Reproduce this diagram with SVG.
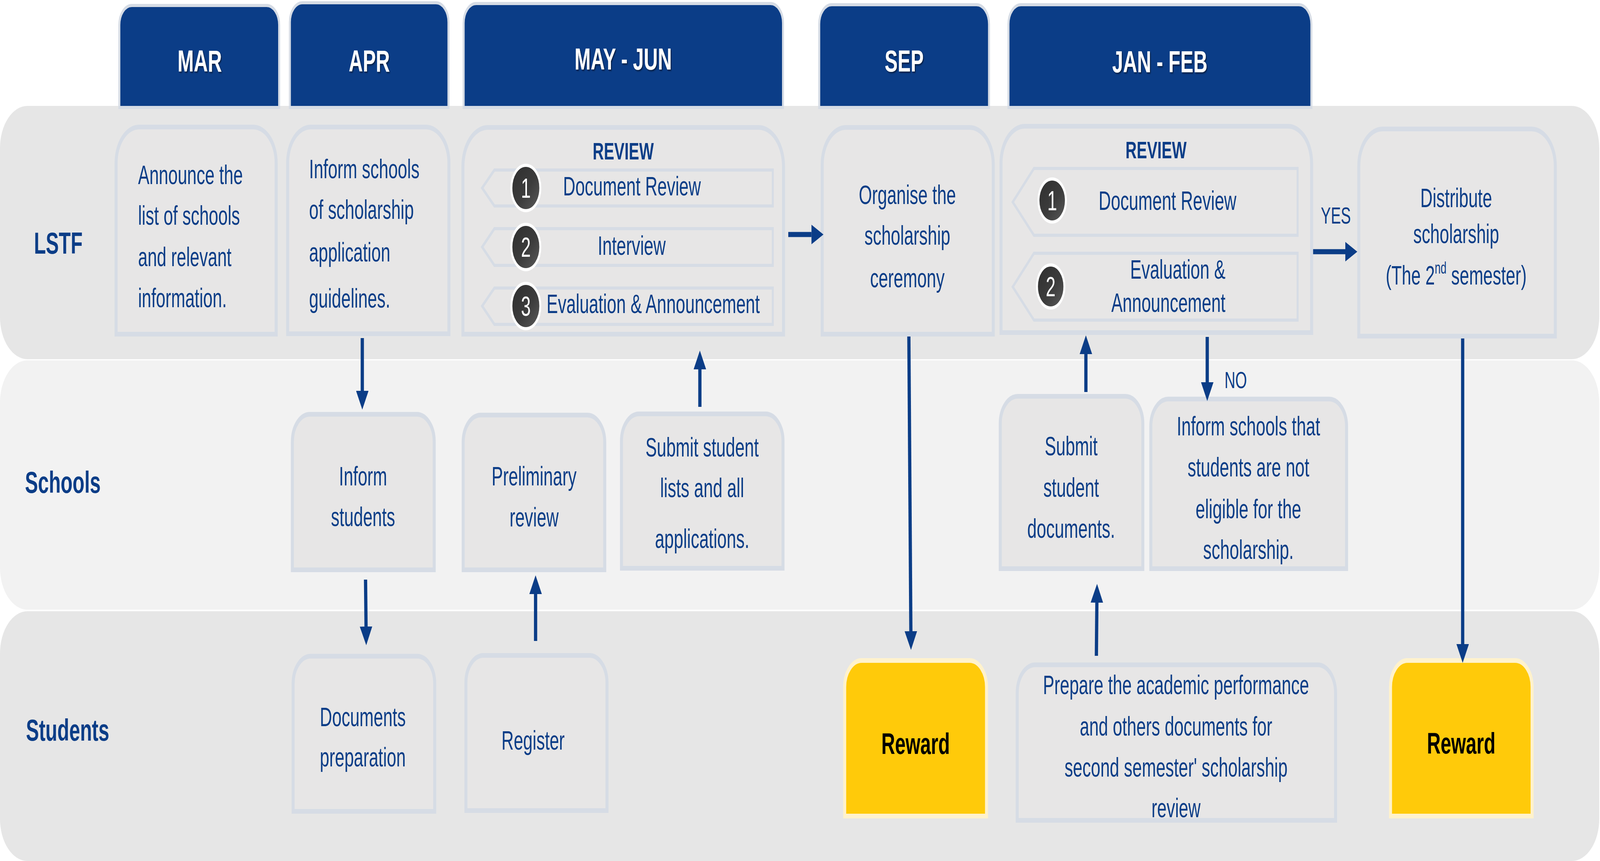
<svg xmlns="http://www.w3.org/2000/svg" width="6408" height="2203" viewBox="0 0 6408 2203" preserveAspectRatio="none" style="width:100vw;height:100vh;display:block">
<defs>
<style>
.lane-a{fill:#e6e6e6}
.lane-b{fill:#f2f2f2}
.hdr{fill:#0b3d87;stroke:#d6dce5;stroke-width:8}
.node{fill:#e7e6e6;stroke:#d6dce5;stroke-width:12}
.reward{fill:#ffca0a;stroke:#fff2cc;stroke-width:12}
.item{fill:none;stroke:#d6dce5;stroke-width:8}
.badge{fill:url(#bg);stroke:#ffffff;stroke-width:8}
text{font-family:"Liberation Sans",Arial,sans-serif;font-size:68px;fill:#0b3d87}
.c{text-anchor:middle}
.e{text-anchor:end}
.h{font-weight:bold;font-size:78px;fill:#ffffff;filter:url(#sh)}
.lab{font-weight:bold;font-size:78px}
.rv{font-weight:bold;font-size:62px}
.num{font-size:70px;fill:#ffffff}
.rw{font-weight:bold;font-size:76px;fill:#000000}
.yn{font-size:60px}
.conn line{stroke:#0b3d87;stroke-width:13;marker-end:url(#ah)}
</style>
<linearGradient id="bg" x1="0" y1="0" x2="1" y2="1">
<stop offset="0" stop-color="#2e2e2e"/>
<stop offset="0.55" stop-color="#3c3c3c"/>
<stop offset="1" stop-color="#5c5c5c"/>
</linearGradient>
<filter id="sh" x="-10%" y="-20%" width="130%" height="150%">
<feDropShadow dx="3" dy="3" stdDeviation="2" flood-color="#000000" flood-opacity="0.55"/>
</filter>
<marker id="ah" viewBox="0 0 48 50" refX="0" refY="25" markerWidth="48" markerHeight="50" markerUnits="userSpaceOnUse" orient="auto">
<path d="M0,0 L48,25 L0,50 z" fill="#0b3d87"/>
</marker>
</defs>
<rect width="6408" height="2203" fill="#ffffff"/>

<g id="lanes">
<rect class="lane-a" x="0" y="271" width="6405" height="648" rx="110" ry="108"/>
<rect class="lane-b" x="0" y="922" width="6405" height="638" rx="110" ry="108"/>
<rect class="lane-a" x="0" y="1564" width="6405" height="639" rx="110" ry="108"/>
<text class="lab" x="136" y="649">LSTF</text>
<text class="lab" x="100" y="1261">Schools</text>
<text class="lab" x="104" y="1895">Students</text>
</g>

<g id="header-mar">
<path class="hdr" d="M478,275 V64 A50,50 0 0 1 528,14 H1068 A50,50 0 0 1 1118,64 V275 Z"/>
<text class="h c" x="800" y="183">MAR</text>
</g>
<g id="header-apr">
<path class="hdr" d="M1161,275 V57 A50,50 0 0 1 1211,7 H1746 A50,50 0 0 1 1796,57 V275 Z"/>
<text class="h c" x="1479" y="183">APR</text>
</g>
<g id="header-mayjun">
<path class="hdr" d="M1857,275 V59 A50,50 0 0 1 1907,9 H3086 A50,50 0 0 1 3136,59 V275 Z"/>
<text class="h c" x="2496" y="178">MAY - JUN</text>
</g>
<g id="header-sep">
<path class="hdr" d="M3281,275 V62 A50,50 0 0 1 3331,12 H3911 A50,50 0 0 1 3961,62 V275 Z"/>
<text class="h c" x="3621" y="183">SEP</text>
</g>
<g id="header-janfeb">
<path class="hdr" d="M4039,275 V62 A50,50 0 0 1 4089,12 H5202 A50,50 0 0 1 5252,62 V275 Z"/>
<text class="h c" x="4645" y="185">JAN - FEB</text>
</g>

<g id="node-announce">
<path class="node" d="M465,855 V417 A92,92 0 0 1 557,325 H1014 A92,92 0 0 1 1106,417 V855 Z"/>
<text x="553" y="471">Announce the</text>
<text x="553" y="575">list of schools</text>
<text x="553" y="681">and relevant</text>
<text x="553" y="786">information.</text>
</g>
<g id="node-inform-schools-guidelines">
<path class="node" d="M1152,854 V417 A92,92 0 0 1 1244,325 H1706 A92,92 0 0 1 1798,417 V854 Z"/>
<text x="1238" y="456">Inform schools</text>
<text x="1238" y="560">of scholarship</text>
<text x="1238" y="669">application</text>
<text x="1238" y="787">guidelines.</text>
</g>
<g id="node-review-1">
<path class="node" d="M1854,855 V426 A100,100 0 0 1 1954,326 H3038 A100,100 0 0 1 3138,426 V855 Z"/>
<text class="rv c" x="2496" y="408">REVIEW</text>
<polygon class="item" points="1931,481 1980,435 3095,435 3095,527 1980,527"/>
<polygon class="item" points="1931,632 1980,585 3095,585 3095,679 1980,679"/>
<polygon class="item" points="1931,783 1980,737 3095,737 3095,830 1980,830"/>
<circle class="badge" cx="2106" cy="481" r="58"/>
<circle class="badge" cx="2106" cy="632" r="58"/>
<circle class="badge" cx="2106" cy="783" r="58"/>
<text class="num c" x="2106" y="506">1</text>
<text class="num c" x="2106" y="657">2</text>
<text class="num c" x="2106" y="808">3</text>
<text class="c" x="2531" y="500">Document Review</text>
<text class="c" x="2530" y="652">Interview</text>
<text class="c" x="2616" y="801">Evaluation &amp; Announcement</text>
</g>
<g id="node-ceremony">
<path class="node" d="M3293,855 V421 A95,95 0 0 1 3388,326 H3883 A95,95 0 0 1 3978,421 V855 Z"/>
<text class="c" x="3634" y="522">Organise the</text>
<text class="c" x="3634" y="626">scholarship</text>
<text class="c" x="3634" y="735">ceremony</text>
</g>
<g id="node-review-2">
<path class="node" d="M4009,851 V418 A95,95 0 0 1 4104,323 H5158 A95,95 0 0 1 5253,418 V851 Z"/>
<text class="rv c" x="4630" y="405">REVIEW</text>
<polygon class="item" points="4056,517 4141,431 5197,431 5197,602 4141,602"/>
<polygon class="item" points="4056,734 4141,648 5197,648 5197,819 4141,819"/>
<circle class="badge" cx="4214" cy="513" r="55"/>
<circle class="badge" cx="4208" cy="733" r="55"/>
<text class="num c" x="4214" y="538">1</text>
<text class="num c" x="4208" y="758">2</text>
<text class="c" x="4676" y="537">Document Review</text>
<text class="e" x="4908" y="713">Evaluation &amp;</text>
<text class="e" x="4908" y="798">Announcement</text>
</g>
<g id="node-distribute">
<path class="node" d="M5442,860 V425 A95,95 0 0 1 5537,330 H6134 A95,95 0 0 1 6229,425 V860 Z"/>
<text class="c" x="5832" y="530">Distribute</text>
<text class="c" x="5832" y="622">scholarship</text>
<text class="c" x="5832" y="728">(The 2<tspan font-size="42" dy="-28">nd</tspan><tspan dy="28"> semester)</tspan></text>
</g>

<g id="node-inform-students">
<path class="node" d="M1171,1458 V1130 A70,70 0 0 1 1241,1060 H1669 A70,70 0 0 1 1739,1130 V1458 Z"/>
<text class="c" x="1454" y="1242">Inform</text>
<text class="c" x="1454" y="1346">students</text>
</g>
<g id="node-preliminary">
<path class="node" d="M1855,1458 V1132 A70,70 0 0 1 1925,1062 H2352 A70,70 0 0 1 2422,1132 V1458 Z"/>
<text class="c" x="2139" y="1242">Preliminary</text>
<text class="c" x="2139" y="1347">review</text>
</g>
<g id="node-submit-lists">
<path class="node" d="M2489,1454 V1129 A70,70 0 0 1 2559,1059 H3066 A70,70 0 0 1 3136,1129 V1454 Z"/>
<text class="c" x="2812" y="1168">Submit student</text>
<text class="c" x="2812" y="1272">lists and all</text>
<text class="c" x="2812" y="1402">applications.</text>
</g>
<g id="node-submit-docs">
<path class="node" d="M4006,1455 V1084 A70,70 0 0 1 4076,1014 H4507 A70,70 0 0 1 4577,1084 V1455 Z"/>
<text class="c" x="4290" y="1165">Submit</text>
<text class="c" x="4290" y="1271">student</text>
<text class="c" x="4290" y="1376">documents.</text>
</g>
<g id="node-not-eligible">
<path class="node" d="M4609,1455 V1091 A70,70 0 0 1 4679,1021 H5323 A70,70 0 0 1 5393,1091 V1455 Z"/>
<text class="c" x="5000" y="1114">Inform schools that</text>
<text class="c" x="5000" y="1219">students are not</text>
<text class="c" x="5000" y="1326">eligible for the</text>
<text class="c" x="5000" y="1430">scholarship.</text>
</g>

<g id="node-documents-prep">
<path class="node" d="M1174,2076 V1749 A70,70 0 0 1 1244,1679 H1671 A70,70 0 0 1 1741,1749 V2076 Z"/>
<text class="c" x="1453" y="1858">Documents</text>
<text class="c" x="1453" y="1961">preparation</text>
</g>
<g id="node-register">
<path class="node" d="M1866,2074 V1747 A70,70 0 0 1 1936,1677 H2361 A70,70 0 0 1 2431,1747 V2074 Z"/>
<text class="c" x="2135" y="1918">Register</text>
</g>
<g id="node-reward-1">
<path class="reward" d="M3383,2088 V1758 A68,68 0 0 1 3451,1690 H3883 A68,68 0 0 1 3951,1758 V2088 Z"/>
<text class="rw c" x="3667" y="1929">Reward</text>
</g>
<g id="node-prepare">
<path class="node" d="M4074,2099 V1773 A72,72 0 0 1 4146,1701 H5277 A72,72 0 0 1 5349,1773 V2099 Z"/>
<text class="c" x="4710" y="1776">Prepare the academic performance</text>
<text class="c" x="4710" y="1882">and others documents for</text>
<text class="c" x="4710" y="1987">second semester' scholarship</text>
<text class="c" x="4710" y="2091">review</text>
</g>
<g id="node-reward-2">
<path class="reward" d="M5569,2088 V1758 A68,68 0 0 1 5637,1690 H6068 A68,68 0 0 1 6136,1758 V2088 Z"/>
<text class="rw c" x="5852" y="1928">Reward</text>
</g>

<g id="connectors" class="conn">
<line x1="3157" y1="600" x2="3250" y2="600"/>
<line x1="1451" y1="865" x2="1451" y2="1000"/>
<line x1="1464" y1="1483" x2="1466" y2="1603"/>
<line x1="2145" y1="1640" x2="2145" y2="1520"/>
<line x1="2803" y1="1041" x2="2803" y2="945"/>
<line x1="3640" y1="861" x2="3648" y2="1615"/>
<line x1="4391" y1="1678" x2="4393" y2="1542"/>
<line x1="4349" y1="1003" x2="4349" y2="906"/>
<line x1="4835" y1="862" x2="4835" y2="978"/>
<line x1="5259" y1="644" x2="5388" y2="644"/>
<line x1="5858" y1="866" x2="5858" y2="1648"/>
<text class="yn" x="5350" y="572" text-anchor="middle">YES</text>
<text class="yn" x="4904" y="993">NO</text>
</g>
</svg>
